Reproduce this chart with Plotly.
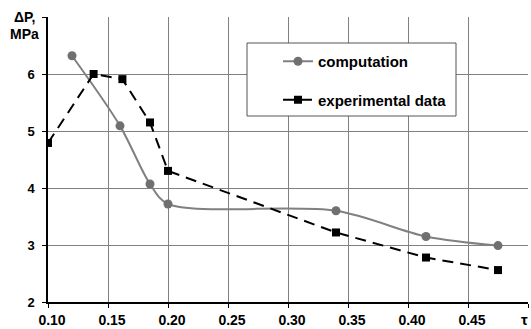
import plotly.graph_objects as go

# Data
comp_x = [0.12, 0.16, 0.185, 0.20, 0.34, 0.415, 0.475]
comp_y = [6.32, 5.09, 4.07, 3.72, 3.60, 3.15, 2.99]

exp_x = [0.10, 0.138, 0.162, 0.185, 0.20, 0.34, 0.415, 0.475]
exp_y = [4.79, 6.00, 5.91, 5.15, 4.30, 3.22, 2.78, 2.56]

x_ticks = [0.10, 0.15, 0.20, 0.25, 0.30, 0.35, 0.40, 0.45, 0.50]
x_labels = ["0.10", "0.15", "0.20", "0.25", "0.30", "0.35", "0.40", "0.45", ""]
y_ticks = [2, 3, 4, 5, 6, 7]
y_labels = ["2", "3", "4", "5", "6", ""]

FONT = "Liberation Sans"

fig = go.Figure()
fig.add_trace(go.Scatter(
    x=comp_x, y=comp_y, mode="lines+markers", name="computation",
    line=dict(color="#808080", width=2, shape="spline", smoothing=0.9),
    marker=dict(symbol="circle", size=9, color="#707070"),
    legendgroup="a",
))
fig.add_trace(go.Scatter(
    x=exp_x, y=exp_y, mode="lines+markers", name="experimental data",
    line=dict(color="black", width=2, dash="11px,7px"),
    marker=dict(symbol="square", size=8, color="black"),
    legendgroup="b",
))

# legend box
fig.add_shape(type="rect", xref="paper", yref="paper",
              x0=(247 - 48) / 480, x1=(456 - 48) / 480,
              y0=(302 - 116) / 285, y1=(302 - 43) / 285,
              line=dict(color="#555555", width=1), fillcolor="white", layer="above")

fig.add_annotation(x=-0.048, y=1.0, xref="paper", yref="paper", text="<b>ΔP,</b>",
                   showarrow=False, font=dict(family=FONT, size=14, color="black"),
                   xanchor="center", yanchor="middle")
fig.add_annotation(x=-0.048, y=(302 - 34) / 285, xref="paper", yref="paper", text="<b>MPa</b>",
                   showarrow=False, font=dict(family=FONT, size=14, color="black"),
                   xanchor="center", yanchor="middle")
fig.add_annotation(x=(524 - 48) / 480, y=(302 - 319) / 285, xref="paper", yref="paper",
                   text="<b>τ</b>", showarrow=False,
                   font=dict(family=FONT, size=15, color="black"),
                   xanchor="center", yanchor="middle")

fig.update_layout(
    width=531, height=329,
    margin=dict(l=48, r=3, t=17, b=27),
    paper_bgcolor="white", plot_bgcolor="white",
    font=dict(family=FONT, color="black"),
    showlegend=True,
    legend=dict(x=(278 - 48) / 480, y=(302 - 45) / 285, xanchor="left", yanchor="top",
                bgcolor="rgba(0,0,0,0)", borderwidth=0, tracegroupgap=16,
                font=dict(family=FONT, size=15, color="black", weight="bold")),
    xaxis=dict(range=[0.10, 0.50], tickvals=x_ticks, ticktext=x_labels,
               showgrid=True, gridcolor="#808080", gridwidth=1,
               showline=True, linecolor="black", linewidth=1.5,
               ticks="outside", ticklen=4, tickcolor="black",
               tickfont=dict(family=FONT, size=14, color="black", weight="bold"),
               ticklabelshift=4, ticklabelstandoff=0, zeroline=False, automargin=False),
    yaxis=dict(range=[2, 7], tickvals=y_ticks, ticktext=y_labels,
               showgrid=True, gridcolor="#808080", gridwidth=1,
               showline=True, linecolor="black", linewidth=1.5,
               ticks="outside", ticklen=4, tickcolor="black",
               tickfont=dict(family=FONT, size=13, color="black", weight="bold"),
               ticklabelstandoff=5, zeroline=False, automargin=False),
)

fig.write_html("out.html")
